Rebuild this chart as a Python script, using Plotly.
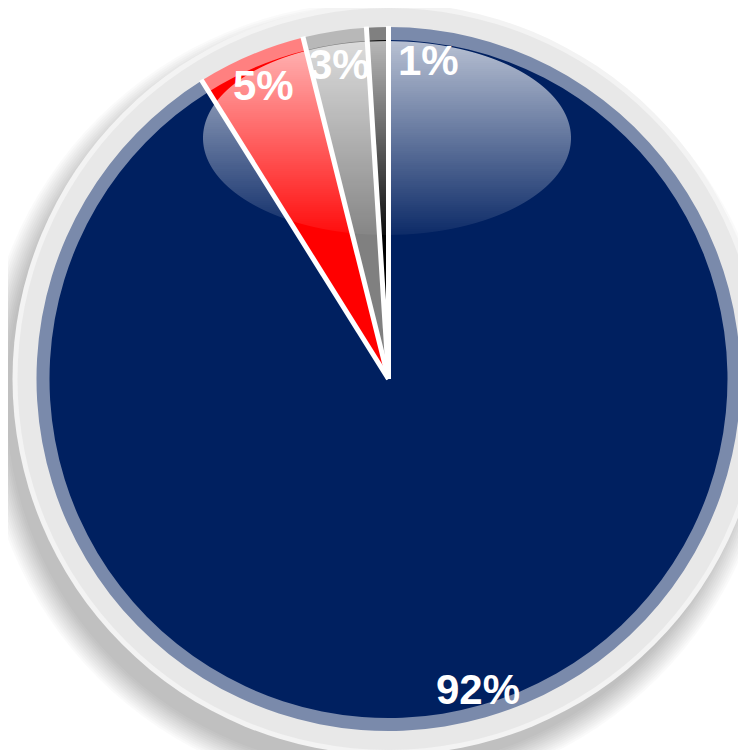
import numpy as np
import plotly.graph_objects as go

# ---------------- data ----------------
categories = ["Series 1", "Series 2", "Series 3", "Series 4"]
values = [91.1, 5.0, 2.9, 1.0]
label_texts = ["92%", "5%", "3%", "1%"]

# ---------------- style ----------------
slice_colors = ["#002060", "#ff0000", "#808080", "#000000"]
rim_colors = ["#7a8aab", "#ff8080", "#b8b8b8", "#808080"]
label_nudge_px = [(2, 4), (0, 0), (0, 0), (50, 0)]  # per-label nudge (style)

W, H = 746, 750
OFF = 8.0  # page body margin compensation
CX, CY = 388.5 - OFF, 379.0 - OFF
R_IN, R_RIM, R_RING, R_FAINT = 339.0, 352.0, 371.0, 376.0


def px(x):
    return x / W


def py(y):
    return 1 - y / H


def dom(r):
    return dict(x=[(CX - r) / W, (CX + r) / W], y=[(H - CY - r) / H, (H - CY + r) / H])


fig = go.Figure()

common = dict(labels=categories, values=values, sort=False, direction="clockwise",
              rotation=0, textinfo="none", hoverinfo="skip", showlegend=False)
fig.add_trace(go.Pie(domain=dom(R_RIM), marker=dict(colors=rim_colors, line=dict(width=0)), **common))
fig.add_trace(go.Pie(domain=dom(R_IN), marker=dict(colors=slice_colors, line=dict(width=0)), **common))

shapes = []

# soft drop shadow (below)
SCX, SCY = 378.0 - OFF, 398.0 - OFF
for r in range(396, 370, -2):
    shapes.append(dict(type="circle", xref="paper", yref="paper", layer="below",
                       x0=px(SCX - r), x1=px(SCX + r), y0=py(SCY + r), y1=py(SCY - r),
                       fillcolor="rgba(0,0,0,0.018)", line=dict(width=0)))
# outer rings
for r, col in [(R_FAINT, "#f3f3f3"), (R_RING, "#e8e8e8")]:
    shapes.append(dict(type="circle", xref="paper", yref="paper", layer="below",
                       x0=px(CX - r), x1=px(CX + r), y0=py(CY + r), y1=py(CY - r),
                       fillcolor=col, line=dict(width=0)))

# white separators at slice boundaries (from data)
total = float(sum(values))
cum = np.concatenate([[0.0], np.cumsum(values)[:-1]]) / total
for c in cum:
    th = 2 * np.pi * c
    x1 = CX + (R_RIM + 1) * np.sin(th)
    y1 = CY - (R_RIM + 1) * np.cos(th)
    shapes.append(dict(type="line", xref="paper", yref="paper", layer="above",
                       x0=px(CX), y0=py(CY), x1=px(x1), y1=py(y1),
                       line=dict(color="white", width=5)))

# glossy highlight ellipse (bands)
GCX, GCY, GRX, GRY = 387.0 - OFF, 138.0 - OFF, 184.0, 97.0
ytop, ybot = GCY - GRY, GCY + GRY
A_TOP, A_BOT = 0.72, 0.05
y = ytop
while y < ybot:
    ya, yb = y, min(y + 2, ybot)
    ys = np.linspace(ya, yb, 5)
    hw = GRX * np.sqrt(np.clip(1 - ((ys - GCY) / GRY) ** 2, 0, None))
    pts = [(GCX + h, yy) for h, yy in zip(hw, ys)] + [(GCX - h, yy) for h, yy in zip(hw[::-1], ys[::-1])]
    path = "M " + " L ".join(f"{px(a):.5f},{py(b):.5f}" for a, b in pts) + " Z"
    a = A_TOP + (A_BOT - A_TOP) * (((ya + yb) / 2) - ytop) / (ybot - ytop)
    shapes.append(dict(type="path", xref="paper", yref="paper", layer="above", path=path,
                       fillcolor=f"rgba(255,255,255,{a:.3f})", line=dict(width=0)))
    y = yb

# labels at slice mid-angles
annotations = []
mids = (np.cumsum(values) - np.array(values) / 2) / total
LR = 0.94 * R_IN
for txt, m, (dx, dy) in zip(label_texts, mids, label_nudge_px):
    th = 2 * np.pi * m
    lx = CX + LR * np.sin(th) + dx
    ly = CY - LR * np.cos(th) + dy
    annotations.append(dict(x=px(lx), y=py(ly), xref="paper", yref="paper", text=txt,
                            showarrow=False, xanchor="center", yanchor="middle",
                            font=dict(family="Liberation Sans, Arial, sans-serif", size=42,
                                      color="white", weight="bold")))

fig.update_layout(width=W, height=H, margin=dict(l=0, r=0, t=0, b=0),
                  paper_bgcolor="white", plot_bgcolor="white",
                  shapes=shapes, annotations=annotations)

fig.write_html("out.html")
